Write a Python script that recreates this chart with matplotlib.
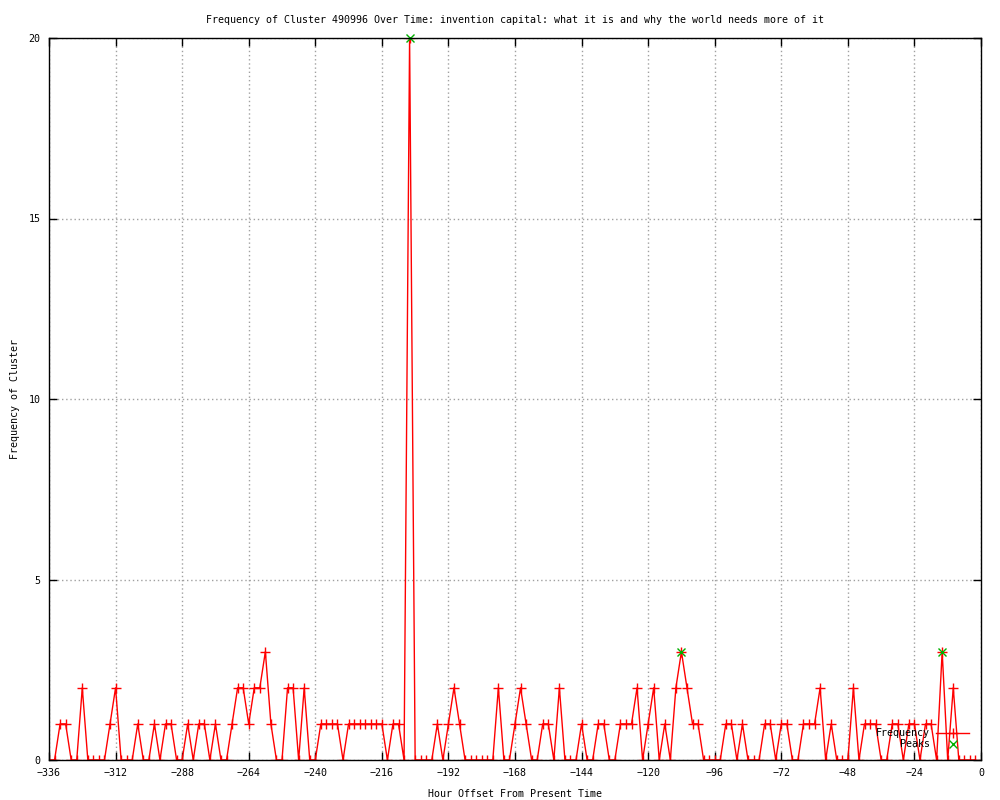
import numpy as np
import matplotlib
matplotlib.use("Agg")
import matplotlib.pyplot as plt

# frequency per 2-hour bin, from -336 h up to -2 h
hours = list(range(-336, 0, 2))
freq = [0, 0, 1, 1, 0, 0, 2, 0, 0, 0,
        0, 1, 2, 0, 0, 0, 1, 0, 0, 1,
        0, 1, 1, 0, 0, 1, 0, 1, 1, 0,
        1, 0, 0, 1, 2, 2, 1, 2, 2, 3,
        1, 0, 0, 2, 2, 0, 2, 0, 0, 1,
        1, 1, 1, 0, 1, 1, 1, 1, 1, 1,
        1, 0, 1, 1, 0, 20, 0, 0, 0, 0,
        1, 0, 1, 2, 1, 0, 0, 0, 0, 0,
        0, 2, 0, 0, 1, 2, 1, 0, 0, 1,
        1, 0, 2, 0, 0, 0, 1, 0, 0, 1,
        1, 0, 0, 1, 1, 1, 2, 0, 1, 2,
        0, 1, 0, 2, 3, 2, 1, 1, 0, 0,
        0, 0, 1, 1, 0, 1, 0, 0, 0, 1,
        1, 0, 1, 1, 0, 0, 1, 1, 1, 2,
        0, 1, 0, 0, 0, 2, 0, 1, 1, 1,
        0, 0, 1, 1, 0, 1, 1, 0, 1, 1,
        0, 3, 0, 2, 0, 0, 0, 0]

peak_hours = [-206, -108, -14]
peak_vals = [20, 3, 3]

xticks = list(range(-336, 1, 24))
yticks = [0, 5, 10, 15, 20]

title = ("Frequency of Cluster 490996 Over Time: invention capital: "
         "what it is and why the world needs more of it")

plt.rcParams['font.family'] = ['DejaVu Sans Mono']
plt.rcParams['font.size'] = 7.2

fig = plt.figure(figsize=(10, 8), dpi=100)
ax = fig.add_axes([0.049, 0.05, 0.932, 0.9025])

ax.plot(hours, freq, color='red', lw=1, marker='+', ms=7, mew=1,
        label='Frequency', clip_on=True)
ax.plot(peak_hours, peak_vals, ls='none', color='#00b000', marker='x',
        ms=6, mew=1, label='Peaks', clip_on=False)

ax.set_xlim(-336, 0)
ax.set_ylim(0, 20)
ax.set_xticks(xticks)
ax.set_yticks(yticks)
ax.tick_params(direction='in', length=6, width=1, top=True, right=True,
               pad=6, labelsize=7.2)
ax.grid(True, color='#a0a0a0', ls=(0, (1, 2)), lw=1)
for s in ax.spines.values():
    s.set_linewidth(1)

ax.set_title(title, fontsize=7.2, pad=11)
ax.set_xlabel('Hour Offset From Present Time', labelpad=8)
ax.set_ylabel('Frequency of Cluster', labelpad=6)

ax.legend(loc='lower right', bbox_to_anchor=(0.995, 0.005), frameon=False,
          markerfirst=False, handlelength=3.3, handletextpad=0.6,
          labelspacing=0.1, borderpad=0.2, fontsize=7.2)

fig.savefig('out.png', dpi=100)
